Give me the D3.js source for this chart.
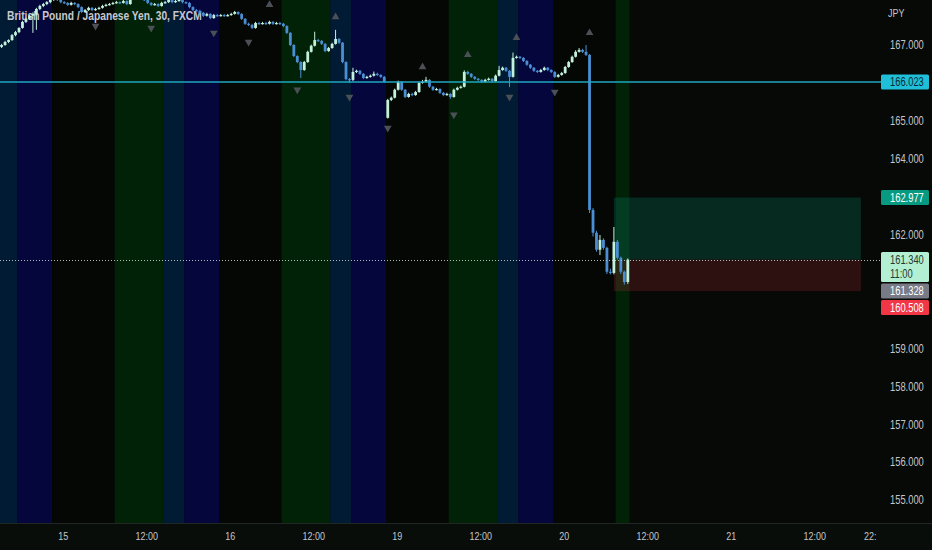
<!DOCTYPE html>
<html><head><meta charset="utf-8">
<script src="https://cdn.jsdelivr.net/npm/d3@7"></script>
<style>html,body{margin:0;padding:0;background:#060906;overflow:hidden}svg{display:block}</style>
</head><body><svg id="c" width="932" height="550"></svg>
<script>
// ---------------- DATA ----------------
const title = "British Pound / Japanese Yen, 30, FXCM";
const currency = "JPY";
const firstBarOfDay = 30;      // first bar = 15:00 (30-min bars)
const barsPerDay = 48;

const opens = [
166.95,167.00,167.08,167.13,167.26,167.34,167.45,167.61,167.69,167.77,
167.82,167.95,168.03,168.08,168.13,168.19,168.24,168.19,168.13,168.11,
168.06,168.11,168.08,168.00,167.87,167.92,167.98,167.92,167.95,167.98,
168.03,168.06,168.08,168.11,168.13,168.11,168.16,168.08,168.24,168.27,
168.24,168.21,168.19,168.11,168.06,168.08,168.03,168.11,168.13,168.19,
168.13,168.16,168.19,168.13,168.11,168.00,167.92,167.90,167.85,167.77,
167.82,167.71,167.79,167.77,167.79,167.77,167.79,167.82,167.87,167.82,
167.69,167.56,167.53,167.45,167.58,167.56,167.58,167.56,167.61,167.56,
167.58,167.56,167.50,167.32,167.00,166.71,166.55,166.34,166.55,166.82,
166.98,167.13,167.11,167.03,166.84,166.92,167.03,167.16,167.06,166.55,
166.10,166.08,166.29,166.32,166.24,166.13,166.16,166.19,166.24,166.21,
166.16,165.08,165.55,165.61,165.82,166.03,165.82,165.63,165.71,165.68,
165.76,166.00,166.03,166.08,165.90,165.82,165.84,165.74,165.68,165.71,
165.63,165.82,165.87,165.90,166.29,166.24,166.16,166.11,166.08,166.03,
166.08,166.11,166.05,166.19,166.34,166.40,166.32,166.16,166.66,166.69,
166.66,166.58,166.48,166.40,166.32,166.29,166.34,166.40,166.34,166.29,
166.16,166.21,166.26,166.42,166.55,166.69,166.82,166.87,166.82,166.74,
162.65,162.05,161.60,161.86,161.65,161.02,160.99,161.81,161.39,161.02,
160.75];
const highs = [
167.03,167.11,167.15,167.29,167.37,167.47,167.64,167.72,167.80,167.86,
167.98,168.06,168.11,168.16,168.22,168.28,168.27,168.21,168.16,168.13,
168.14,168.13,168.10,168.02,167.95,168.01,168.00,167.98,168.01,168.06,
168.09,168.11,168.14,168.16,168.15,168.19,168.18,168.27,168.30,168.29,
168.26,168.24,168.21,168.13,168.11,168.10,168.14,168.16,168.22,168.21,
168.19,168.22,168.21,168.15,168.13,168.02,167.95,167.93,167.87,167.85,
167.84,167.82,167.82,167.82,167.82,167.82,167.85,167.90,167.89,167.84,
167.71,167.59,167.56,167.61,167.61,167.61,167.61,167.64,167.63,167.61,
167.61,167.58,167.52,167.34,167.02,166.73,166.57,166.58,166.85,167.01,
167.35,167.16,167.13,167.05,166.95,167.06,167.40,167.18,167.08,166.57,
166.13,166.40,166.35,166.34,166.26,166.19,166.22,166.30,166.27,166.23,
166.18,165.58,165.64,165.85,166.06,166.05,165.84,165.74,165.74,165.79,
166.03,166.08,166.16,166.10,165.92,165.87,165.86,165.76,165.74,165.73,
165.85,165.90,165.93,166.33,166.32,166.26,166.18,166.13,166.10,166.11,
166.14,166.13,166.22,166.45,166.43,166.42,166.34,166.80,166.72,166.71,
166.68,166.60,166.50,166.42,166.34,166.37,166.43,166.42,166.36,166.31,
166.24,166.29,166.45,166.58,166.72,166.86,166.92,166.90,167.00,166.76,
162.70,162.10,161.99,161.90,161.68,161.10,162.20,161.86,161.42,161.05,
161.37];
const lows = [
166.92,166.98,167.05,167.11,167.23,167.31,167.43,167.58,167.66,167.32,
167.40,167.92,168.00,168.05,168.10,168.16,168.16,168.10,168.08,168.03,
168.04,168.05,167.97,167.84,167.85,167.90,167.89,167.90,167.93,167.96,
168.01,168.04,168.06,168.09,168.08,168.09,168.05,168.06,168.22,168.21,
168.19,168.16,168.08,168.03,168.04,168.00,168.01,168.09,168.11,168.10,
168.11,168.14,168.10,168.08,167.97,167.89,167.87,167.82,167.74,167.75,
167.68,167.69,167.74,167.75,167.74,167.75,167.77,167.80,167.79,167.66,
167.53,167.50,167.42,167.43,167.53,167.54,167.53,167.54,167.53,167.54,
167.53,167.47,167.29,166.97,166.68,166.52,166.13,166.32,166.53,166.80,
166.96,167.08,167.00,166.81,166.82,166.90,167.01,167.03,166.52,166.07,
166.00,166.05,166.26,166.21,166.10,166.11,166.14,166.17,166.18,166.13,
166.00,165.06,165.52,165.59,165.80,165.79,165.60,165.61,165.65,165.66,
165.74,165.98,166.01,165.87,165.79,165.80,165.71,165.65,165.66,165.58,
165.61,165.80,165.85,165.88,166.21,166.13,166.08,166.05,166.00,166.01,
166.06,166.02,166.03,166.17,166.32,166.29,165.89,166.14,166.64,166.63,
166.55,166.45,166.37,166.29,166.26,166.27,166.32,166.31,166.26,166.13,
166.14,166.19,166.24,166.40,166.53,166.67,166.80,166.79,166.71,162.57,
161.95,161.55,161.46,161.60,160.96,160.95,160.95,161.34,160.96,160.68,
160.70];
const closes = [
167.00,167.08,167.13,167.26,167.34,167.45,167.61,167.69,167.77,167.82,
167.95,168.03,168.08,168.13,168.19,168.24,168.19,168.13,168.11,168.06,
168.11,168.08,168.00,167.87,167.92,167.98,167.92,167.95,167.98,168.03,
168.06,168.08,168.11,168.13,168.11,168.16,168.08,168.24,168.27,168.24,
168.21,168.19,168.11,168.06,168.08,168.03,168.11,168.13,168.19,168.13,
168.16,168.19,168.13,168.11,168.00,167.92,167.90,167.85,167.77,167.82,
167.71,167.79,167.77,167.79,167.77,167.79,167.82,167.87,167.82,167.69,
167.56,167.53,167.45,167.58,167.56,167.58,167.56,167.61,167.56,167.58,
167.56,167.50,167.32,167.00,166.71,166.55,166.34,166.55,166.82,166.98,
167.13,167.11,167.03,166.84,166.92,167.03,167.16,167.06,166.55,166.10,
166.08,166.29,166.32,166.24,166.13,166.16,166.19,166.24,166.21,166.16,
166.03,165.55,165.61,165.82,166.03,165.82,165.63,165.71,165.68,165.76,
166.00,166.03,166.08,165.90,165.82,165.84,165.74,165.68,165.71,165.63,
165.82,165.87,165.90,166.29,166.24,166.16,166.11,166.08,166.03,166.08,
166.11,166.05,166.19,166.34,166.40,166.32,166.16,166.66,166.69,166.66,
166.58,166.48,166.40,166.32,166.29,166.34,166.40,166.34,166.29,166.16,
166.21,166.26,166.42,166.55,166.69,166.82,166.87,166.82,166.74,162.65,
162.05,161.60,161.86,161.65,161.02,160.99,161.81,161.39,161.02,160.75,
161.34];

// session backgrounds (bar-of-day where each starts)
const sessionStart = [15, 29, 35, 45];
const sessionColors = ["#022208", "#021b35", "#05063b", "#040704"];

// pivot markers
const markerIdx   = [27, 43, 61, 71, 77, 85, 96, 100, 111, 121, 130, 134, 146, 148, 159, 169];
const markerPrice = [167.50,167.45,167.32,167.08,168.06,165.82,167.74,165.63,164.81,166.42,165.16,166.74,165.63,167.19,165.76,167.32];
const markerDir   = ["dn","dn","dn","dn","up","dn","up","dn","dn","up","dn","up","dn","up","dn","up"];

// x-axis ticks (bar index) and labels
const xTickIdx    = [18, 42, 66, 90, 114, 138, 162, 186, 210, 234, 250];
const xTickLabels = ["15","12:00","16","12:00","19","12:00","20","12:00","21","12:00","22:"];
// y-axis ticks
const priceTicks = [167,165,164,162,159,158,157,156,155];

// lines & position tool
const lastLinePrice = 166.023;
const currentPrice = 161.340;
const countdown = "11:00";
const bidPrice = 161.328;
const targetPrice = 162.977;
const stopPrice = 160.508;
const posStartIdx = 176, posEndIdx = 247;

// ---------------- DRAW ----------------
const W = 932, H = 550, plotR = 870, plotB = 523;
const svg = d3.select("#c");
const x = d3.scaleLinear().domain([0, 180]).range([1.6, 627.8]);
const y = d3.scaleLinear().domain([155, 167]).range([500, 45]);
const bw = x(1) - x(0);
const FONT = "'Liberation Sans', Arial, sans-serif";
const SX = 0.78;

svg.append("rect").attr("width", W).attr("height", H).attr("fill", "#060906");
svg.append("defs").append("clipPath").attr("id", "pc")
  .append("rect").attr("width", plotR).attr("height", plotB);

const plot = svg.append("g").attr("clip-path", "url(#pc)");

// session bands
function sessionOf(i) {
  const b = (i + firstBarOfDay) % barsPerDay;
  let k = 3;
  for (let s = 0; s < sessionStart.length; s++) if (b >= sessionStart[s]) k = s;
  return k;
}
const runs = [];
closes.forEach((c, i) => {
  const k = sessionOf(i);
  if (runs.length && runs[runs.length - 1].k === k) runs[runs.length - 1].e = i;
  else runs.push({ s: i, e: i, k });
});
plot.selectAll("rect.band").data(runs).join("rect").attr("class", "band")
  .attr("x", d => x(d.s) - bw / 2).attr("width", d => x(d.e) - x(d.s) + bw)
  .attr("y", 0).attr("height", plotB).attr("fill", d => sessionColors[d.k]);

// title
plot.append("text").attr("transform", `translate(7,20) scale(0.8,1)`)
  .attr("font-family", FONT).attr("font-size", 12.8).attr("font-weight", 600)
  .attr("fill", "#c6c9d0").text(title);

// position tool
plot.append("rect").attr("x", x(posStartIdx)).attr("width", x(posEndIdx) - x(posStartIdx))
  .attr("y", y(targetPrice)).attr("height", y(currentPrice) - y(targetPrice))
  .attr("fill", "rgba(8,153,129,0.22)");
plot.append("rect").attr("x", x(posStartIdx)).attr("width", x(posEndIdx) - x(posStartIdx))
  .attr("y", y(currentPrice)).attr("height", y(stopPrice) - y(currentPrice))
  .attr("fill", "rgba(242,54,69,0.17)");

// candles
const bars = closes.map((c, i) => ({ i, o: opens[i], h: highs[i], l: lows[i], c }));
const upC = "#c2f1dc", dnC = "#4a8fd3";
const cg = plot.append("g");
cg.selectAll("line").data(bars).join("line")
  .attr("x1", d => x(d.i)).attr("x2", d => x(d.i))
  .attr("y1", d => y(d.h)).attr("y2", d => y(d.l))
  .attr("stroke", d => d.c >= d.o ? upC : dnC).attr("stroke-width", 1);
cg.selectAll("rect").data(bars).join("rect")
  .attr("x", d => x(d.i) - 1.4).attr("width", 2.8)
  .attr("y", d => y(Math.max(d.o, d.c)))
  .attr("height", d => Math.max(1.2, Math.abs(y(d.o) - y(d.c))))
  .attr("fill", d => d.c >= d.o ? upC : dnC);

// markers
const tri = d3.symbol(d3.symbolTriangle, 26);
plot.selectAll("path.mk").data(markerIdx.map((m, k) => ({ m, p: markerPrice[k], d: markerDir[k] })))
  .join("path").attr("class", "mk").attr("d", tri)
  .attr("transform", d => `translate(${x(d.m)},${y(d.p)}) rotate(${d.d === "dn" ? 180 : 0})`)
  .attr("fill", "#4b4f56");

// lines
svg.append("line").attr("x1", 0).attr("x2", 881).attr("y1", y(lastLinePrice)).attr("y2", y(lastLinePrice))
  .attr("stroke", "#1fa7bf").attr("stroke-width", 1.6);
svg.append("line").attr("x1", 0).attr("x2", 881).attr("y1", Math.round(y(currentPrice)) + 0.5).attr("y2", Math.round(y(currentPrice)) + 0.5)
  .attr("stroke", "#c9d6cf").attr("stroke-width", 1).attr("stroke-dasharray", "1,2").attr("opacity", 0.85);

// bottom axis
svg.append("rect").attr("x", 0).attr("y", plotB).attr("width", W).attr("height", H - plotB).attr("fill", "#090d0a");
svg.append("line").attr("x1", 0).attr("x2", W).attr("y1", plotB + 0.5).attr("y2", plotB + 0.5)
  .attr("stroke", "#1f2623").attr("stroke-width", 1);
const xAxis = d3.axisBottom(x).tickValues(xTickIdx).tickFormat((d, k) => xTickLabels[k]).tickSize(0).tickPadding(9);
const xg = svg.append("g").attr("transform", `translate(-1.5,${plotB})`).call(xAxis);
xg.select(".domain").remove();
xg.selectAll("text").attr("font-family", FONT).attr("font-size", 11.5).attr("fill", "#c3c6cc")
  .attr("transform", `scale(${SX},1)`);

// right axis
const yAxis = d3.axisRight(y).tickValues(priceTicks).tickFormat(d3.format(".3f")).tickSize(0).tickPadding(0);
const yg = svg.append("g").attr("transform", "translate(890,0)").call(yAxis);
yg.select(".domain").remove();
yg.selectAll("text").attr("font-family", FONT).attr("font-size", 12).attr("fill", "#c3c6cc")
  .attr("transform", `scale(${SX},1)`);

function txt(px, py, s, fill, size) {
  svg.append("text").attr("transform", `translate(${px},${py}) scale(${SX},1)`)
    .attr("font-family", FONT).attr("font-size", size || 12).attr("fill", fill).text(s);
}
txt(888, 17, currency, "#c3c6cc", 11.5);

// price labels (stacked to avoid overlap)
const fmt = d3.format(".3f");
const labels = [
  { p: lastLinePrice, bg: "#1fbfd9", fg: "#0c2a33", lines: [fmt(lastLinePrice)] },
  { p: targetPrice, bg: "#089981", fg: "#ffffff", lines: [fmt(targetPrice)] },
  { p: currentPrice, bg: "#b3efd3", fg: "#1f3a30", lines: [fmt(currentPrice), countdown] },
  { p: bidPrice, bg: "#787b86", fg: "#ffffff", lines: [fmt(bidPrice)] },
  { p: stopPrice, bg: "#f23645", fg: "#ffffff", lines: [fmt(stopPrice)] }
];
let prevBottom = -1e9;
labels.forEach(L => {
  const hgt = 15 * L.lines.length;
  let top = Math.max(y(L.p) - 7.5, prevBottom + 1.5);
  prevBottom = top + hgt;
  svg.append("rect").attr("x", 881).attr("y", top).attr("width", 48).attr("height", hgt)
    .attr("rx", 1.5).attr("fill", L.bg);
  L.lines.forEach((s, k) => txt(890, top + 11.8 + k * 14, s, L.fg));
});
</script></body></html>
